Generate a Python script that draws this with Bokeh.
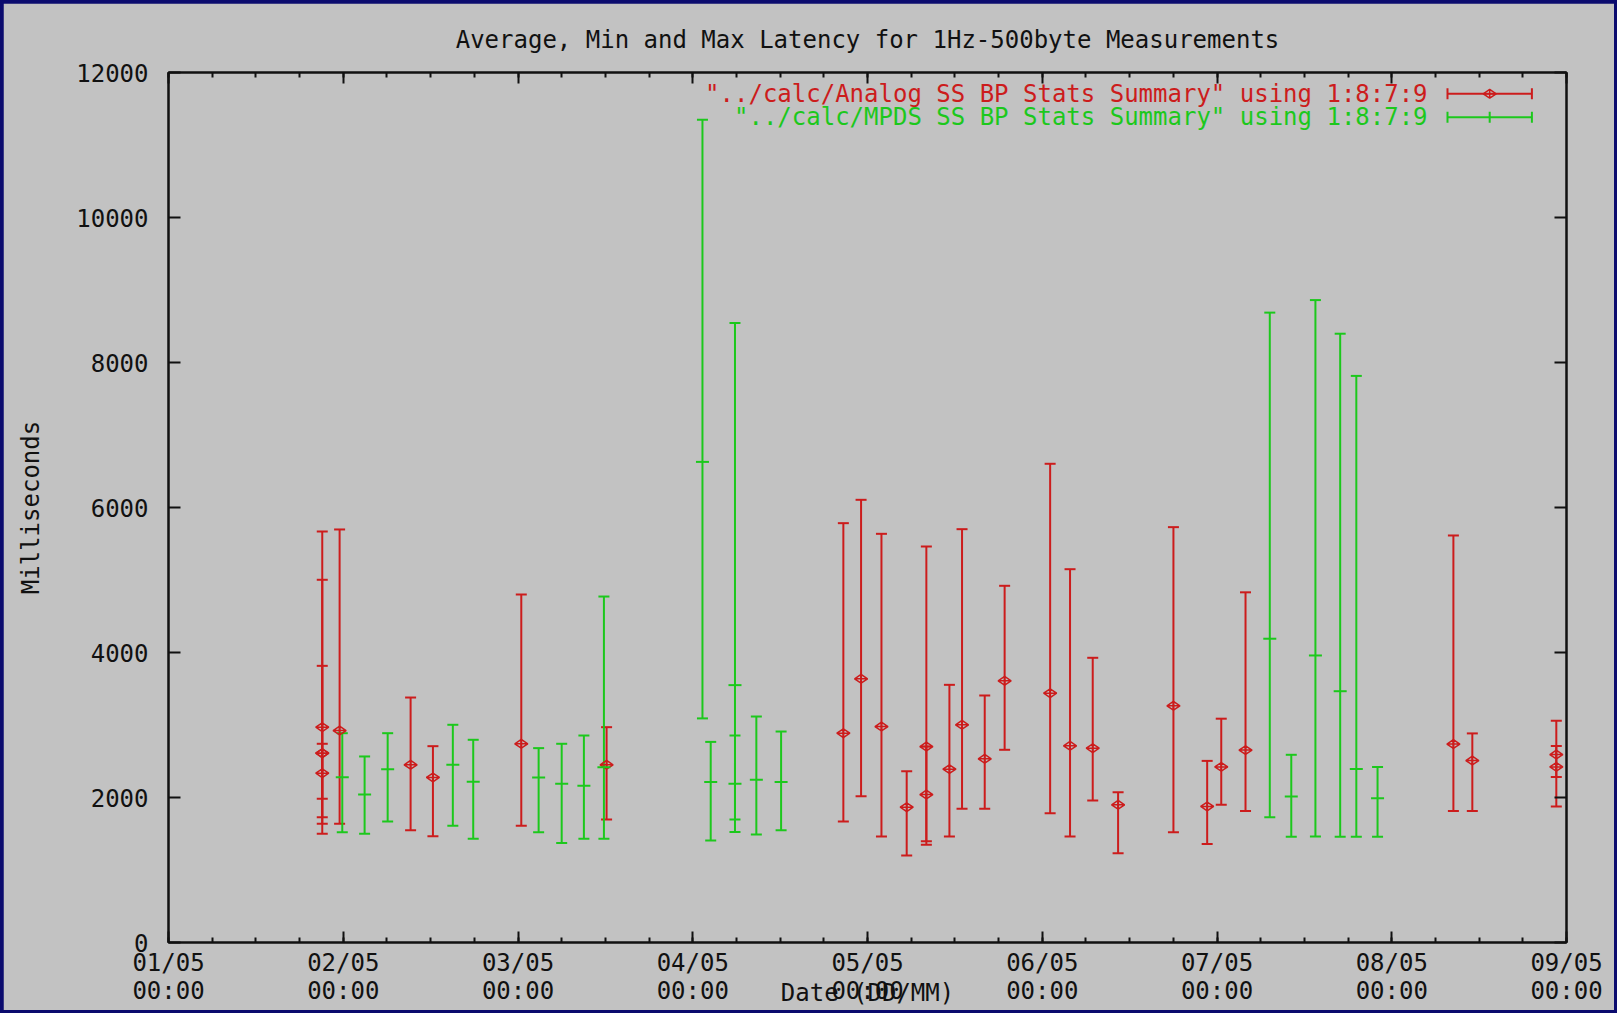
import numpy as np
import pandas as pd
from math import pi
from bokeh.plotting import figure
from bokeh.models import (ColumnDataSource, Range1d, FixedTicker, DatetimeTickFormatter,
                          LinearAxis, DatetimeAxis, Label, CustomJSTickFormatter)
from bokeh.embed import file_html
from bokeh.resources import INLINE

# ---------------- data ----------------
YEAR = "2005"
title_text = "Average, Min and Max Latency for 1Hz-500byte Measurements"
analog_label = '"../calc/Analog SS BP Stats Summary" using 1:8:7:9'
mpds_label = '"../calc/MPDS SS BP Stats Summary" using 1:8:7:9'
x_title = "Date (DD/MM)"
y_title = "Milliseconds"

analog_time = ["05-01 21:07", "05-01 21:07", "05-01 21:07", "05-01 21:07", "05-01 23:30",
               "05-02 09:15", "05-02 12:19", "05-03 00:27", "05-03 12:10", "05-04 20:41",
               "05-04 23:07", "05-05 01:55", "05-05 05:23", "05-05 08:05", "05-05 08:05",
               "05-05 11:15", "05-05 12:59", "05-05 16:06", "05-05 18:50", "05-06 01:05",
               "05-06 03:49", "05-06 06:56", "05-06 10:25", "05-06 18:01", "05-06 22:39",
               "05-07 00:35", "05-07 03:55", "05-08 08:28", "05-08 11:04", "05-08 22:36",
               "05-08 22:36"]
analog_avg = [2970, 2335, 2611, 2611, 2924, 2451, 2276, 2741, 2451, 2887,
              3637, 2979, 1866, 2703, 2041, 2391, 3003, 2534, 3610, 3439,
              2713, 2680, 1899, 3265, 1876, 2422, 2654, 2737, 2510, 2593, 2422]
analog_min = [1499, 1637, 1729, 1982, 1637, 1549, 1466, 1610, 1697, 1669,
              2018, 1462, 1200, 1397, 1348, 1462, 1844, 1844, 2658, 1784,
              1462, 1959, 1232, 1521, 1359, 1900, 1815, 1815, 1815, 1876, 2284]
analog_max = [5669, 5003, 3816, 2741, 5697, 3379, 2708, 4800, 2970, 5784,
              6106, 5637, 2363, 5462, 2703, 3554, 5701, 3407, 4920, 6603,
              5149, 3927, 2073, 5729, 2505, 3087, 4830, 5614, 2884, 3057, 2712]

mpds_time = ["05-01 23:52", "05-02 02:56", "05-02 06:06", "05-02 15:03", "05-02 17:51",
             "05-03 02:50", "05-03 06:00", "05-03 09:03", "05-03 11:48", "05-04 01:20",
             "05-04 02:28", "05-04 05:48", "05-04 05:48", "05-04 08:44", "05-04 12:08",
             "05-07 07:15", "05-07 10:12", "05-07 13:31", "05-07 16:55", "05-07 19:08",
             "05-07 22:03"]
mpds_avg = [2280, 2041, 2391, 2451, 2216, 2276, 2189, 2161, 2418, 6629,
            2215, 3550, 2190, 2244, 2215, 4190, 2014, 3959, 3466, 2392, 1988]
mpds_min = [1521, 1499, 1669, 1610, 1430, 1521, 1372, 1430, 1430, 3091,
            1407, 1525, 1697, 1490, 1550, 1727, 1458, 1462, 1458, 1458, 1458]
mpds_max = [2887, 2566, 2887, 3003, 2796, 2681, 2741, 2855, 4772, 11350,
            2767, 8545, 2855, 3117, 2910, 8688, 2589, 8861, 8397, 7815, 2422]

x_tick_days = ["05-01", "05-02", "05-03", "05-04", "05-05", "05-06", "05-07", "05-08", "05-09"]
y_ticks = [0, 2000, 4000, 6000, 8000, 10000, 12000]

# ---------------- style ----------------
GREY = "#c2c2c2"
NAVY = "#0b0b6e"
RED = "#cc1c1c"
GREEN = "#1cc81c"
INK = "#111111"
FONT = "DejaVu Sans Mono"
FS = "24px"


def to_dt(s):
    return pd.to_datetime([f"{YEAR}-{v}" for v in s])


def ms(ts):
    return ts.value / 1e6


major_dt = to_dt([d + " 00:00" for d in x_tick_days])
major_ms = [ms(t) for t in major_dt]
minor_ms = list(np.arange(major_ms[0], major_ms[-1] + 1, 6 * 3600 * 1000.0))
t0, t1 = major_dt[0], major_dt[-1]
DAY = 24 * 3600 * 1000.0

a_src = ColumnDataSource(dict(t=to_dt(analog_time), avg=analog_avg, lo=analog_min, hi=analog_max))
m_src = ColumnDataSource(dict(t=to_dt(mpds_time), avg=mpds_avg, lo=mpds_min, hi=mpds_max))

p = figure(width=1611, height=1007, x_axis_type="datetime",
           x_range=Range1d(t0, t1), y_range=Range1d(0, 12000),
           output_backend="svg", toolbar_location=None,
           min_border_left=165, min_border_right=48, min_border_top=69, min_border_bottom=68,
           background_fill_color=GREY, border_fill_color=GREY,
           outline_line_color=INK, outline_line_width=2)

p.title.text = title_text
p.title.align = "center"
p.title.text_font = FONT
p.title.text_font_size = FS
p.title.text_font_style = "normal"
p.title.text_color = INK
p.title.standoff = 38

p.xgrid.visible = False
p.ygrid.visible = False

F = "%d/%m\n%H:%M"
fmt = DatetimeTickFormatter(microseconds=F, milliseconds=F, seconds=F, minsec=F, minutes=F,
                            hourmin=F, hours=F, days=F, months=F, years=F)
blank = CustomJSTickFormatter(code="return ''")

xax = p.xaxis[0]
top = DatetimeAxis()
for ax in (xax, top):
    ax.ticker = FixedTicker(ticks=major_ms, minor_ticks=minor_ms)
    ax.major_tick_in = 11
    ax.major_tick_out = 0
    ax.minor_tick_in = 5
    ax.minor_tick_out = 0
    ax.axis_line_width = 2
    ax.major_tick_line_width = 2
    ax.minor_tick_line_width = 2
    ax.axis_line_color = INK
    ax.major_tick_line_color = INK
    ax.minor_tick_line_color = INK
    ax.major_label_text_font = FONT
    ax.major_label_text_color = INK
xax.formatter = fmt
xax.major_label_text_font_size = FS
xax.major_label_standoff = 6
xax.major_label_text_line_height = 1.0
xax.axis_label = x_title
xax.axis_label_text_font = FONT
xax.axis_label_text_font_size = FS
xax.axis_label_text_font_style = "normal"
xax.axis_label_text_color = INK
xax.axis_label_standoff = -29
top.formatter = blank
top.major_label_text_font_size = "2px"
top.major_label_standoff = 0
p.add_layout(top, "above")

yax = p.yaxis[0]
right = LinearAxis()
for ax in (yax, right):
    ax.ticker = FixedTicker(ticks=y_ticks)
    ax.major_tick_in = 12
    ax.major_tick_out = 0
    ax.minor_tick_line_color = None
    ax.axis_line_width = 2
    ax.major_tick_line_width = 2
    ax.axis_line_color = INK
    ax.major_tick_line_color = INK
    ax.major_label_text_font = FONT
    ax.major_label_text_color = INK
yax.major_label_text_font_size = FS
yax.major_label_standoff = 20
yax.axis_label = y_title
yax.axis_label_text_font = FONT
yax.axis_label_text_font_size = FS
yax.axis_label_text_font_style = "normal"
yax.axis_label_text_color = INK
yax.axis_label_standoff = 28
right.formatter = blank
right.major_label_text_font_size = "2px"
right.major_label_standoff = 0
p.add_layout(right, "right")

# ---------------- error bars ----------------
for src, col in ((a_src, RED), (m_src, GREEN)):
    p.segment(x0="t", y0="lo", x1="t", y1="hi", source=src, line_color=col, line_width=2)
    p.scatter(x="t", y="lo", source=src, marker="dash", size=11, line_color=col, line_width=2)
    p.scatter(x="t", y="hi", source=src, marker="dash", size=11, line_color=col, line_width=2)

p.scatter(x="t", y="avg", source=a_src, marker="diamond_cross", angle=pi / 2, size=13,
          fill_color=None, line_color=RED, line_width=1.5)
p.scatter(x="t", y="avg", source=m_src, marker="dash", size=13, line_color=GREEN, line_width=2)

# ---------------- legend (drawn gnuplot style) ----------------
leg_text_x = ms(t0) + 7.205 * DAY
leg_x0 = ms(t0) + 7.319 * DAY
leg_x1 = ms(t0) + 7.802 * DAY
leg_xm = (leg_x0 + leg_x1) / 2
for txt, yv, col, mk in ((analog_label, 11706, RED, "diamond_cross"),
                         (mpds_label, 11383, GREEN, "dash")):
    p.add_layout(Label(x=leg_text_x, y=yv, text=txt, text_align="right", text_baseline="middle",
                       text_font=FONT, text_font_size=FS, text_color=col))
    p.segment(x0=[leg_x0], y0=[yv], x1=[leg_x1], y1=[yv], line_color=col, line_width=2)
    p.scatter(x=[leg_x0, leg_x1], y=[yv, yv], marker="dash", angle=pi / 2, size=11,
              line_color=col, line_width=2)
    if mk == "dash":
        p.scatter(x=[leg_xm], y=[yv], marker="dash", angle=pi / 2, size=11, line_color=col, line_width=2)
    else:
        p.scatter(x=[leg_xm], y=[yv], marker=mk, angle=pi / 2, size=13, fill_color=None,
                  line_color=col, line_width=1.5)

html = file_html(p, INLINE)
css = ("<style>html{background-color:%s;} body{background-color:%s; "
       "padding:3px 0 0 3px !important;}</style></head>") % (NAVY, NAVY)
html = html.replace("</head>", css, 1)
open("out.html", "w").write(html)
